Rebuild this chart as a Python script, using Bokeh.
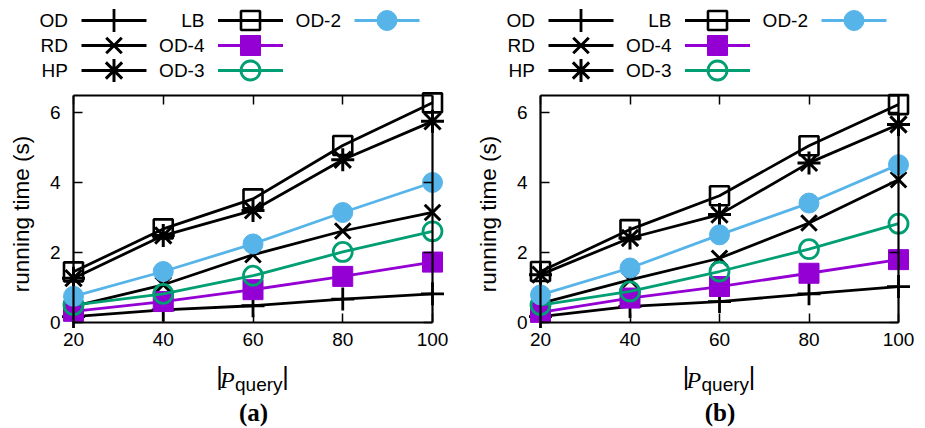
import math
from bokeh.plotting import figure
from bokeh.models import Range1d, LinearAxis, FixedTicker, Label, ColumnDataSource
from bokeh.layouts import row, column
from bokeh.embed import file_html
from bokeh.resources import INLINE
from bokeh.core.properties import value

# ---------------- data ----------------
x_vals = [20, 40, 60, 80, 100]
x_ticks = [20, 40, 60, 80, 100]
y_ticks = [0, 2, 4, 6]
series_names = ["OD", "RD", "HP", "LB", "OD-4", "OD-3", "OD-2"]

# panel (a)
a_OD = [0.17, 0.36, 0.48, 0.67, 0.82]
a_RD = [0.46, 1.08, 1.94, 2.62, 3.15]
a_HP = [1.27, 2.49, 3.21, 4.66, 5.76]
a_LB = [1.45, 2.68, 3.54, 5.07, 6.29]
a_OD4 = [0.32, 0.60, 0.94, 1.32, 1.73]
a_OD3 = [0.50, 0.82, 1.34, 2.02, 2.61]
a_OD2 = [0.75, 1.46, 2.25, 3.15, 4.01]

# panel (b)
b_OD = [0.17, 0.46, 0.60, 0.82, 1.03]
b_RD = [0.55, 1.22, 1.84, 2.85, 4.09]
b_HP = [1.37, 2.42, 3.09, 4.57, 5.67]
b_LB = [1.46, 2.66, 3.63, 5.06, 6.24]
b_OD4 = [0.29, 0.70, 1.03, 1.41, 1.80]
b_OD3 = [0.50, 0.89, 1.46, 2.10, 2.83]
b_OD2 = [0.79, 1.56, 2.51, 3.42, 4.52]

panel_a = [a_OD, a_RD, a_HP, a_LB, a_OD4, a_OD3, a_OD2]
panel_b = [b_OD, b_RD, b_HP, b_LB, b_OD4, b_OD3, b_OD2]

X_MIN, X_MAX = 20, 100
Y_MIN, Y_MAX = 0, 6.5

# ---------------- styles ----------------
BLACK = "#000000"
PURPLE = "#9400D3"
GREEN = "#009E73"
BLUE = "#56B4E9"
styles = {
    "OD":   dict(marker="cross",    color=BLACK,  fill=None,   size=23, lw=2.8),
    "RD":   dict(marker="x",        color=BLACK,  fill=None,   size=22, lw=3),
    "HP":   dict(marker="asterisk", color=BLACK,  fill=None,   size=23, lw=3),
    "LB":   dict(marker="square",   color=BLACK,  fill=None,   size=19, lw=2.6),
    "OD-4": dict(marker="square",   color=PURPLE, fill=PURPLE, size=20, lw=1),
    "OD-3": dict(marker="circle",   color=GREEN,  fill=None,   size=19, lw=2.8),
    "OD-2": dict(marker="circle",   color=BLUE,   fill=BLUE,   size=20, lw=1),
}
LINE_W = 2.8
FONT = "Liberation Sans"
SERIF = "Liberation Serif"

LEG_H = 85
FIG_H = 343
BOX_TOP = 10      # box top inside plot figure (px)
BOX_BOTTOM = 237  # box bottom inside plot figure (px)


def legend_fig(fig_w, box_left):
    lf = figure(width=fig_w, height=LEG_H, x_range=Range1d(0, fig_w), y_range=Range1d(LEG_H, 0),
                output_backend="svg", toolbar_location=None,
                x_axis_location=None, y_axis_location=None, min_border=0,
                outline_line_color=None)
    for g in lf.grid:
        g.visible = False
    for i, name in enumerate(series_names):
        c, r = i // 3, i % 3
        st = styles[name]
        y = 20 + r * 25
        x0 = box_left + 8 + c * 136.5
        x1 = box_left + 73 + c * 136.5
        xm = box_left + 40.5 + c * 136.5
        xl = box_left - 5.5 + c * 136.5
        lf.segment(x0=[x0], y0=[y], x1=[x1], y1=[y], line_color=st["color"], line_width=LINE_W)
        lf.scatter(x=[xm], y=[y], marker=st["marker"], size=st["size"],
                   line_color=st["color"], fill_color=st["fill"] or "white",
                   fill_alpha=1 if st["fill"] else 0, line_width=st["lw"])
        lf.text(x=[xl], y=[y], text=[name], text_align="right", text_baseline="middle",
                text_font=value(FONT), text_font_size=value("19px"), text_color=BLACK)
    return lf


def plot_fig(vals, fig_w, box_left, box_w, caption):
    box_h = BOX_BOTTOM - BOX_TOP
    xs = (X_MAX - X_MIN) / box_w
    ys = (Y_MAX - Y_MIN) / box_h
    p = figure(width=fig_w, height=FIG_H,
               x_range=Range1d(X_MIN - box_left * xs, X_MIN + (fig_w - box_left) * xs),
               y_range=Range1d(Y_MIN - (FIG_H - BOX_BOTTOM) * ys, Y_MAX + BOX_TOP * ys),
               output_backend="svg", toolbar_location=None,
               x_axis_location=None, y_axis_location=None,
               min_border=0, outline_line_color=None)
    for g in p.grid:
        g.visible = False

    def style_axis(ax):
        ax.axis_line_width = 2.2
        ax.axis_line_color = BLACK
        ax.major_tick_in = 9
        ax.major_tick_out = 0
        ax.major_tick_line_width = 1.5
        ax.major_tick_line_color = BLACK
        ax.minor_tick_line_color = None
        ax.major_label_text_font = FONT
        ax.major_label_text_font_size = "19px"
        ax.major_label_text_color = BLACK

    xb = LinearAxis(ticker=FixedTicker(ticks=x_ticks), fixed_location=Y_MIN, bounds=(X_MIN, X_MAX))
    style_axis(xb)
    xb.major_label_standoff = 10
    xt = LinearAxis(ticker=FixedTicker(ticks=x_ticks), fixed_location=Y_MAX, bounds=(X_MIN, X_MAX))
    style_axis(xt)
    xt.major_label_overrides = {t: "" for t in x_ticks}
    yl = LinearAxis(ticker=FixedTicker(ticks=y_ticks), fixed_location=X_MIN, bounds=(Y_MIN, Y_MAX))
    style_axis(yl)
    yl.major_label_standoff = 13
    yr = LinearAxis(ticker=FixedTicker(ticks=y_ticks), fixed_location=X_MAX, bounds=(Y_MIN, Y_MAX))
    style_axis(yr)
    yr.major_label_overrides = {t: "" for t in y_ticks}
    p.add_layout(xb, "below")
    p.add_layout(xt, "above")
    p.add_layout(yl, "left")
    p.add_layout(yr, "right")

    for name, ys_ in zip(series_names, vals):
        st = styles[name]
        src = ColumnDataSource(dict(x=x_vals, y=ys_))
        p.line("x", "y", source=src, line_color=st["color"], line_width=LINE_W)
        p.scatter("x", "y", source=src, marker=st["marker"], size=st["size"],
                  line_color=st["color"], fill_color=st["fill"] or "white",
                  fill_alpha=1 if st["fill"] else 0, line_width=st["lw"])

    xc = (X_MIN + X_MAX) / 2
    # y axis label
    p.add_layout(Label(x=X_MIN, y=(Y_MIN + Y_MAX) / 2, x_offset=-52, y_offset=-5,
                       angle=math.pi / 2, text="running time (s)", text_align="center",
                       text_baseline="middle", text_font=FONT, text_font_size="22.5px",
                       text_color=BLACK))
    # x axis label |P_query|
    p.add_layout(Label(x=xc, y=Y_MIN, x_offset=-33.5, y_offset=-53.5, text="|",
                       text_align="center", text_baseline="middle", text_font=FONT,
                       text_font_size="25px", text_color=BLACK))
    p.add_layout(Label(x=xc, y=Y_MIN, x_offset=-33, y_offset=-57, text="P",
                       text_align="left", text_baseline="alphabetic", text_font=SERIF,
                       text_font_style="italic", text_font_size="24px", text_color=BLACK))
    p.add_layout(Label(x=xc, y=Y_MIN, x_offset=-18, y_offset=-62, text="query",
                       text_align="left", text_baseline="alphabetic", text_font=FONT,
                       text_font_size="19px", text_color=BLACK))
    p.add_layout(Label(x=xc, y=Y_MIN, x_offset=32.5, y_offset=-53.5, text="|",
                       text_align="center", text_baseline="middle", text_font=FONT,
                       text_font_size="25px", text_color=BLACK))
    # caption
    p.add_layout(Label(x=xc, y=Y_MIN, x_offset=0.5, y_offset=-89.5, text=caption,
                       text_align="center", text_baseline="middle", text_font=SERIF,
                       text_font_style="bold", text_font_size="25px", text_color=BLACK))
    return p


W1, W2 = 460, 465
leg_a = legend_fig(W1, 73)
leg_b = legend_fig(W2, 80)
p_a = plot_fig(panel_a, W1, 73, 359, "(a)")
p_b = plot_fig(panel_b, W2, 80, 358, "(b)")

layout = row(column(leg_a, p_a), column(leg_b, p_b))
open("out.html", "w").write(file_html(layout, INLINE))
